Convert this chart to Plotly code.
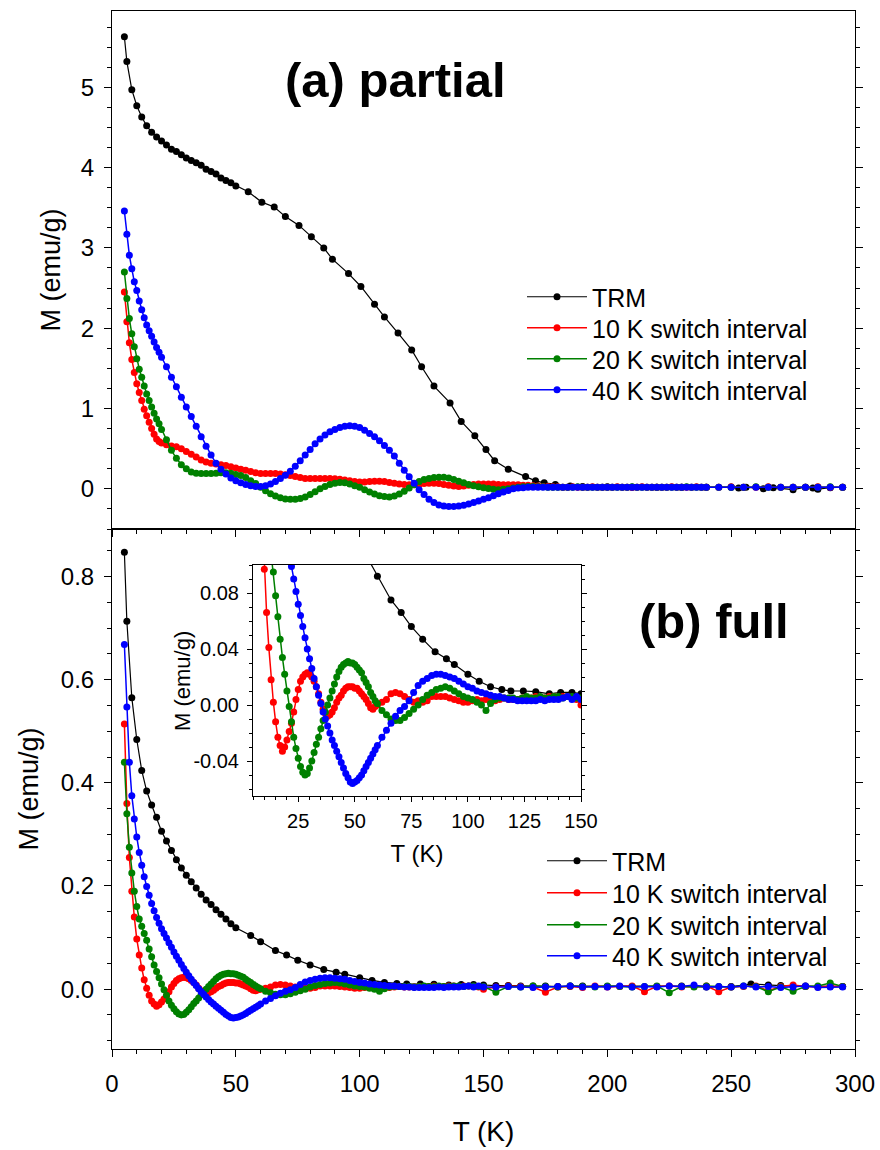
import plotly.graph_objects as go

FONT = "Liberation Sans, Arial, sans-serif"

# ---------------- Data: (a) partial ----------------
T_trm_a = [5, 6, 8, 10, 12, 14, 16, 18, 20, 22,
           24, 26, 28, 30, 32, 34, 36, 38, 40, 42,
           44, 46, 48, 50, 55, 60.5, 65.5, 70, 75.5, 80.5,
           85.5, 89, 95.5, 100.5, 106, 110, 115.5, 121, 125, 130,
           136.5, 141, 146.5, 151, 154.5, 160, 167, 171, 174.5, 179,
           185, 190, 200, 210, 220, 230, 240, 250, 253, 256,
           263, 267, 275, 280, 283, 285, 290, 295]
M_trm_a = [5.63, 5.32, 4.97, 4.77, 4.63, 4.52, 4.44, 4.38, 4.33, 4.28,
           4.23, 4.20, 4.16, 4.12, 4.09, 4.06, 4.03, 3.98, 3.95, 3.92,
           3.87, 3.84, 3.81, 3.77, 3.70, 3.57, 3.51, 3.39, 3.28, 3.14,
           3.00, 2.86, 2.68, 2.52, 2.30, 2.14, 1.94, 1.73, 1.52, 1.28,
           1.07, 0.84, 0.66, 0.49, 0.35, 0.245, 0.155, 0.10, 0.075, 0.054,
           0.035, 0.03, 0.025, 0.02, 0.02, 0.02, 0.02, 0.02, 0.01, 0.02,
           0.0, 0.015, -0.01, 0.02, 0.01, -0.005, 0.015, 0.02]

# measurement temperatures of the switch-interval runs (panel a)
T_sw_a = list(range(5, 21)) + list(range(22, 241, 2)) + list(range(245, 296, 5))

M_10_a = [2.45, 2.08, 1.82, 1.61, 1.45, 1.31, 1.20, 1.10, 0.99, 0.91, 0.83, 0.75, 0.68, 0.62, 0.59, 0.57,
          0.55, 0.535, 0.525, 0.50, 0.465, 0.43, 0.395, 0.36, 0.335, 0.32,
          0.31, 0.30, 0.29, 0.275, 0.26, 0.245, 0.23, 0.215, 0.20, 0.19,
          0.19, 0.19, 0.19, 0.185, 0.175, 0.165, 0.155, 0.14, 0.13, 0.13,
          0.13, 0.13, 0.13, 0.13, 0.125, 0.12, 0.11, 0.10, 0.09, 0.085,
          0.085, 0.09, 0.095, 0.095, 0.09, 0.08, 0.07, 0.06, 0.055, 0.05,
          0.05, 0.055, 0.065, 0.07, 0.07, 0.065, 0.055, 0.045, 0.035, 0.03,
          0.035, 0.045, 0.055, 0.06, 0.06, 0.06, 0.06, 0.055, 0.05, 0.05,
          0.05, 0.05, 0.045, 0.045, 0.04, 0.035, 0.03, 0.03, 0.025, 0.025,
          0.02, 0.02, 0.025, 0.02, 0.02, 0.02, 0.025, 0.02, 0.02, 0.02,
          0.02, 0.025, 0.02, 0.02, 0.02, 0.02, 0.025, 0.02, 0.02, 0.02,
          0.02, 0.02, 0.025, 0.02, 0.02, 0.02, 0.02, 0.025, 0.02, 0.02,
          0.02, 0.025, 0.02, 0.02, 0.025, 0.02, 0.02, 0.02, 0.025, 0.02, 0.02]

M_20_a = [2.70, 2.37, 2.12, 1.93, 1.77, 1.62, 1.49, 1.39, 1.28, 1.18, 1.10, 1.02, 0.94, 0.87, 0.81, 0.74,
          0.61, 0.48, 0.38, 0.30, 0.25, 0.21, 0.195, 0.19, 0.19, 0.19,
          0.195, 0.20, 0.20, 0.195, 0.18, 0.165, 0.14, 0.10, 0.065, 0.02,
          -0.025, -0.06, -0.09, -0.11, -0.125, -0.13, -0.13, -0.12, -0.10, -0.07,
          -0.035, 0.0, 0.03, 0.055, 0.07, 0.08, 0.075, 0.06, 0.04, 0.02,
          -0.01, -0.04, -0.065, -0.085, -0.095, -0.10, -0.09, -0.065, -0.03, 0.01,
          0.05, 0.09, 0.115, 0.13, 0.14, 0.145, 0.145, 0.135, 0.115, 0.095,
          0.075, 0.055, 0.04, 0.025, 0.015, 0.005, -0.005, -0.01, -0.005, 0.0,
          0.01, 0.02, 0.025, 0.03, 0.03, 0.025, 0.025, 0.02, 0.02, 0.02,
          0.02, 0.02, 0.02, 0.025, 0.02, 0.02, 0.02, 0.02, 0.02, 0.02,
          0.02, 0.02, 0.02, 0.02, 0.025, 0.02, 0.02, 0.02, 0.02, 0.02,
          0.02, 0.02, 0.02, 0.02, 0.02, 0.025, 0.02, 0.02, 0.02, 0.02,
          0.02, 0.02, 0.02, 0.025, 0.02, 0.02, 0.02, 0.02, 0.02, 0.025, 0.02]

M_40_a = [3.46, 3.17, 2.91, 2.74, 2.58, 2.47, 2.34, 2.23, 2.13, 2.04, 1.97, 1.90, 1.83, 1.76, 1.70, 1.64,
          1.52, 1.39, 1.27, 1.14, 1.02, 0.90, 0.78, 0.65, 0.53, 0.42,
          0.32, 0.245, 0.185, 0.135, 0.10, 0.075, 0.055, 0.04, 0.03, 0.03,
          0.04, 0.06, 0.09, 0.13, 0.17, 0.22, 0.28, 0.35, 0.42, 0.49,
          0.56, 0.62, 0.67, 0.71, 0.74, 0.765, 0.78, 0.785, 0.78, 0.765,
          0.73, 0.69, 0.65, 0.60, 0.54, 0.48, 0.41, 0.32, 0.23, 0.15,
          0.07, -0.01, -0.07, -0.13, -0.17, -0.20, -0.215, -0.22, -0.22, -0.215,
          -0.205, -0.19, -0.17, -0.15, -0.13, -0.11, -0.085, -0.06, -0.04, -0.02,
          0.0, 0.01, 0.015, 0.02, 0.02, 0.02, 0.02, 0.02, 0.02, 0.02,
          0.02, 0.02, 0.02, 0.02, 0.02, 0.02, 0.02, 0.02, 0.02, 0.02,
          0.02, 0.02, 0.02, 0.02, 0.02, 0.02, 0.02, 0.02, 0.02, 0.02,
          0.02, 0.02, 0.02, 0.02, 0.02, 0.02, 0.02, 0.02, 0.02, 0.02,
          0.02, 0.02, 0.02, 0.02, 0.02, 0.02, 0.02, 0.02, 0.02, 0.02, 0.02]

# ---------------- Data: (b) full ----------------
T_trm_b = [5, 6, 8, 10, 12, 14, 16, 18, 20, 22,
           24, 26, 28, 30, 32, 34, 36, 38, 40, 42,
           44, 46, 48, 50, 56, 60, 66, 70.5, 75, 80,
           85.5, 90.5, 94, 100, 105, 110, 115, 119, 124.5, 130,
           136, 141, 146, 150, 155, 160, 165, 170, 175, 180,
           185, 190, 200, 210, 220, 230, 240, 250, 258, 265,
           270, 280, 290, 295]
M_trm_b = [0.847, 0.713, 0.565, 0.484, 0.424, 0.384, 0.357, 0.333, 0.306, 0.287,
           0.269, 0.251, 0.235, 0.221, 0.208, 0.196, 0.184, 0.173, 0.164, 0.154,
           0.145, 0.136, 0.127, 0.119, 0.104, 0.092, 0.075, 0.066, 0.056, 0.047,
           0.038, 0.033, 0.029, 0.022, 0.017, 0.013, 0.011, 0.010, 0.010, 0.0095,
           0.008, 0.009, 0.009, 0.008, 0.007, 0.007, 0.006, 0.006, 0.006, 0.005,
           0.006, 0.006, 0.005, 0.005, 0.005, 0.006, 0.004, 0.005, 0.010, 0.008,
           0.007, 0.006, 0.005, 0.005]

T_sw_b = list(range(5, 61)) + list(range(62, 151, 2)) + list(range(155, 296, 5))

M_10_b = [0.514, 0.36, 0.255, 0.19, 0.14, 0.097, 0.066, 0.041, 0.018, 0.002,
          -0.012, -0.023, -0.029, -0.033, -0.030, -0.025, -0.019, -0.013, -0.005, 0.004,
          0.011, 0.017, 0.020, 0.022, 0.023, 0.022, 0.020, 0.017, 0.013, 0.008,
          0.002, -0.003, -0.006, -0.008, -0.007, -0.005, -0.002, 0.002, 0.005, 0.007,
          0.010, 0.012, 0.013, 0.013, 0.013, 0.012, 0.012, 0.010, 0.008, 0.006,
          0.004, 0.001, -0.002, -0.003, -0.001, 0.000,
          0.002, 0.004, 0.008, 0.009, 0.008, 0.006, 0.004, 0.002, 0.003, 0.002,
          0.003, 0.006, 0.006, 0.006, 0.006, 0.005, 0.004, 0.003, 0.002, 0.002,
          0.003, 0.004, 0.003, 0.004, 0.004, 0.003, 0.004, 0.005, 0.004, 0.004,
          0.004, 0.005, 0.005, 0.005, 0.006, 0.005, 0.005, 0.006, 0.006, 0.005,
          0.006, 0.006, 0.005, 0.004, 0.000,
          0.004, 0.006, 0.005, 0.004, -0.006, 0.004, 0.005, 0.003, 0.006, 0.004,
          0.005, 0.006, -0.005, 0.005, 0.006, 0.004, 0.005, 0.006, -0.005, 0.004,
          0.005, 0.006, -0.003, 0.005, 0.008, 0.005, 0.004, 0.006, 0.005]

M_20_b = [0.44, 0.34, 0.275, 0.225, 0.19, 0.16, 0.136, 0.122, 0.108, 0.095,
          0.078, 0.063, 0.047, 0.034, 0.022, 0.010, -0.001, -0.012, -0.023, -0.031,
          -0.038, -0.044, -0.048, -0.050, -0.049, -0.045, -0.040, -0.034, -0.028, -0.023,
          -0.017, -0.011, -0.005, 0.000, 0.005, 0.010, 0.015, 0.020, 0.024, 0.027,
          0.029, 0.030, 0.031, 0.030, 0.030, 0.029, 0.027, 0.025, 0.023, 0.019,
          0.016, 0.013, 0.009, 0.006, 0.003, 0.001,
          -0.004, -0.007, -0.010, -0.011, -0.011, -0.009, -0.006, -0.003, 0.000, 0.004,
          0.007, 0.009, 0.011, 0.012, 0.013, 0.012, 0.010, 0.008, 0.006, 0.005,
          0.004, 0.002, 0.000, -0.004, 0.001, 0.004, 0.005, 0.005, 0.005, 0.005,
          0.004, 0.005, 0.006, 0.005, 0.005, 0.006, 0.005, 0.005, 0.006, 0.006,
          0.005, 0.006, 0.006, 0.005, 0.005,
          -0.006, 0.005, 0.004, 0.006, 0.005, 0.004, 0.006, 0.005, 0.004, 0.006,
          0.005, 0.004, 0.005, 0.006, -0.007, 0.005, 0.004, 0.006, 0.005, 0.004,
          0.006, 0.005, -0.005, 0.004, -0.004, 0.005, 0.006, 0.012, 0.005]

M_40_b = [0.668, 0.547, 0.44, 0.375, 0.33, 0.295, 0.265, 0.24, 0.218, 0.199,
          0.182, 0.166, 0.152, 0.139, 0.128, 0.117, 0.108, 0.099, 0.090, 0.081,
          0.072, 0.064, 0.056, 0.048, 0.040, 0.033, 0.026, 0.019, 0.013, 0.007,
          0.001, -0.005, -0.010, -0.015, -0.020, -0.025, -0.029, -0.033, -0.037, -0.041,
          -0.045, -0.049, -0.052, -0.055, -0.056, -0.055, -0.054, -0.052, -0.050, -0.047,
          -0.044, -0.041, -0.038, -0.035, -0.032, -0.029,
          -0.023, -0.018, -0.013, -0.008, -0.004, -0.001, 0.003, 0.009, 0.014, 0.017,
          0.019, 0.021, 0.022, 0.022, 0.021, 0.020, 0.019, 0.017, 0.015, 0.013,
          0.012, 0.010, 0.009, 0.008, 0.007, 0.006, 0.006, 0.005, 0.004, 0.004,
          0.003, 0.003, 0.003, 0.003, 0.003, 0.004, 0.003, 0.004, 0.004, 0.004,
          0.005, 0.006, 0.004, 0.006, 0.004,
          0.004, 0.005, 0.004, 0.003, 0.004, 0.005, 0.006, 0.004, 0.005, 0.004,
          0.006, 0.004, 0.005, 0.004, 0.006, 0.005, 0.008, 0.004, 0.005, 0.004,
          0.006, 0.004, 0.005, 0.003, 0.004, 0.006, 0.003, 0.004, 0.004]

series_names = ["TRM", "10 K switch interval", "20 K switch interval", "40 K switch interval"]
series_colors = ["#000000", "#ff0000", "#008000", "#0000ff"]

inset_x_ticks = [25, 50, 75, 100, 125, 150]
inset_y_ticks = [-0.04, 0.00, 0.04, 0.08]
inset_y_labels = ["-0.04", "0.00", "0.04", "0.08"]

panel_a = [(T_trm_a, M_trm_a), (T_sw_a, M_10_a), (T_sw_a, M_20_a), (T_sw_a, M_40_a)]
panel_b = [(T_trm_b, M_trm_b), (T_sw_b, M_10_b), (T_sw_b, M_20_b), (T_sw_b, M_40_b)]

W, H = 880, 1150
def px(x):
    return x / W
def py(y):
    return 1 - y / H

fig = go.Figure()

def add(x, y, i, xa, ya, legend=None):
    fig.add_trace(go.Scatter(
        x=x, y=y, mode="lines+markers", name=series_names[i],
        line=dict(color=series_colors[i], width=1.2 if i == 0 else 1.5),
        marker=dict(color=series_colors[i], size=7, line=dict(width=0)),
        xaxis=xa, yaxis=ya,
        showlegend=legend is not None, legend=legend if legend else "legend",
    ))

# one single-entry legend per row, so the row spacing matches the original
legend_rows_a = [297, 328, 359, 390]
legend_rows_b = [861, 893, 925, 956]
legend_ids_a = ["legend", "legend2", "legend3", "legend4"]
legend_ids_b = ["legend5", "legend6", "legend7", "legend8"]

for i, (x, y) in enumerate(panel_a):
    add(x, y, i, "x", "y", legend_ids_a[i])
for i, (x, y) in enumerate(panel_b):
    add(x, y, i, "x2", "y2", legend_ids_b[i])
for i, (x, y) in enumerate(panel_b):
    add(x, y, i, "x3", "y3", None)

axis_common = dict(showline=True, linecolor="black", linewidth=1, ticks="outside",
                   tickcolor="black", ticklen=7, tickwidth=1, showgrid=False, zeroline=False,
                   tickfont=dict(family=FONT, size=24, color="black"))

legend_style = dict(xanchor="left", yanchor="middle",
                    font=dict(family=FONT, size=25, color="black"), itemwidth=60,
                    bgcolor="rgba(0,0,0,0)", borderwidth=0)
legends = {}
for lid, row in zip(legend_ids_a, legend_rows_a):
    legends[lid] = dict(legend_style, x=px(522), y=py(row))
for lid, row in zip(legend_ids_b, legend_rows_b):
    legends[lid] = dict(legend_style, x=px(542), y=py(row))

xdom = [px(112), px(855)]
fig.update_layout(
    width=W, height=H, autosize=False, margin=dict(l=0, r=0, t=0, b=0, autoexpand=False),
    paper_bgcolor="white", plot_bgcolor="white",
    font=dict(family=FONT, color="black"),
    xaxis=dict(axis_common, domain=xdom, anchor="y", range=[0, 300], dtick=50, tick0=0,
               minor=dict(ticks="outside", dtick=10, ticklen=4, tickcolor="black"),
               showticklabels=False, mirror=True),
    yaxis=dict(axis_common, domain=[py(529), py(11)], anchor="x", range=[-0.5, 5.95],
               dtick=1, tick0=0, mirror="allticks", ticklabelstandoff=5,
               minor=dict(ticks="outside", dtick=0.25, ticklen=4, tickcolor="black"),
               title=dict(text="M (emu/g)", font=dict(family=FONT, size=27), standoff=12)),
    xaxis2=dict(axis_common, domain=xdom, anchor="y2", range=[0, 300], dtick=50, tick0=0,
                minor=dict(ticks="outside", dtick=10, ticklen=4, tickcolor="black"),
                mirror=True, ticklabelstandoff=6,
                title=dict(text="T (K)", font=dict(family=FONT, size=28), standoff=25)),
    yaxis2=dict(axis_common, domain=[py(1049), py(529)], anchor="x2", range=[-0.116, 0.892],
                dtick=0.2, tick0=0, tickformat=".1f", mirror="allticks", ticklabelstandoff=5,
                minor=dict(ticks="outside", dtick=0.05, ticklen=4, tickcolor="black"),
                title=dict(text="M (emu/g)", font=dict(family=FONT, size=27), standoff=14)),
    xaxis3=dict(axis_common, domain=[px(253), px(581)], anchor="y3", range=[5, 150],
                tickmode="array", tickvals=inset_x_ticks, ticklen=5,
                tickfont=dict(family=FONT, size=20, color="black"),
                minor=dict(ticks="outside", dtick=5, tick0=0, ticklen=3, tickcolor="black"),
                mirror=True, ticklabelstandoff=2,
                title=dict(text="T (K)", font=dict(family=FONT, size=24), standoff=14)),
    yaxis3=dict(axis_common, domain=[py(796), py(565)], anchor="x3", range=[-0.065, 0.1],
                tickmode="array", tickvals=inset_y_ticks, ticktext=inset_y_labels, ticklen=5,
                tickfont=dict(family=FONT, size=20, color="black"),
                minor=dict(ticks="outside", dtick=0.01, tick0=0, ticklen=3, tickcolor="black"),
                mirror="allticks", ticklabelstandoff=4),
    annotations=[
        dict(text="<b>(a) partial</b>", x=px(395), y=py(80), xref="paper", yref="paper",
             xanchor="center", yanchor="middle", showarrow=False,
             font=dict(family=FONT, size=49, color="black")),
        dict(text="<b>(b) full</b>", x=px(714), y=py(621), xref="paper", yref="paper",
             xanchor="center", yanchor="middle", showarrow=False,
             font=dict(family=FONT, size=49, color="black")),
        # inset y-axis title
        dict(text="M (emu/g)", x=px(182), y=py(681), xref="paper", yref="paper",
             xanchor="center", yanchor="middle", showarrow=False, textangle=-90,
             font=dict(family=FONT, size=22, color="black")),
    ],
    **legends,
)

fig.write_html("out.html",
               config={"responsive": False, "displayModeBar": False},
               post_script="document.body.style.margin='0';document.body.style.padding='0';")
